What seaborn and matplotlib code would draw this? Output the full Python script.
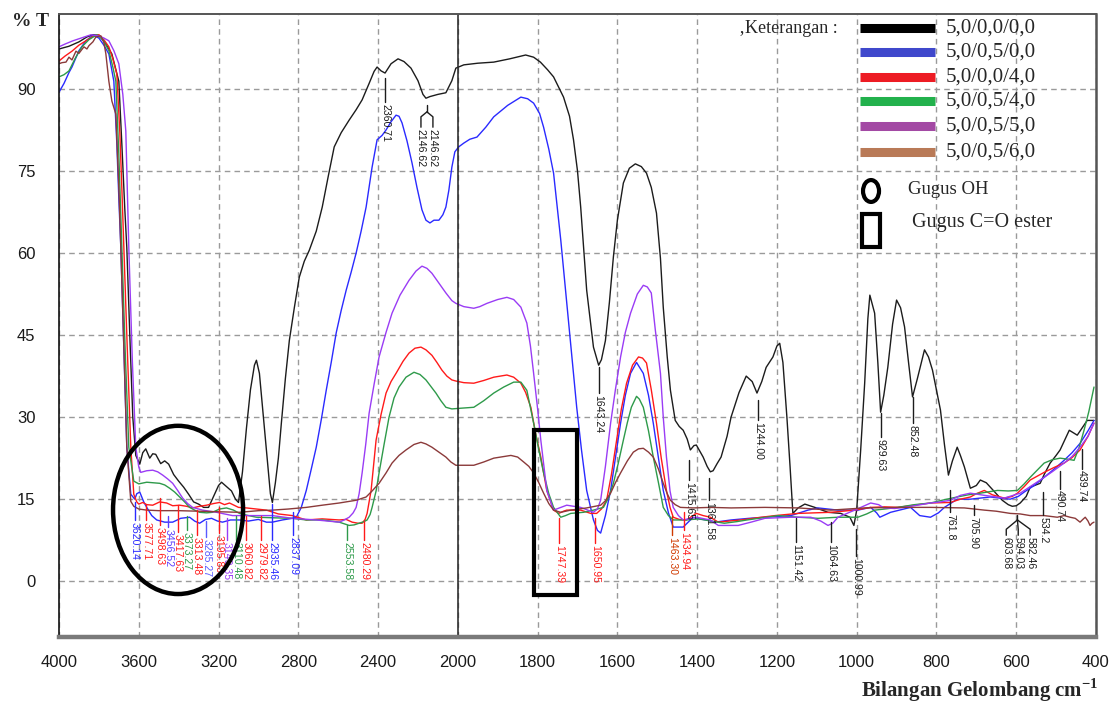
import numpy as np
import matplotlib
matplotlib.use("Agg")
import matplotlib.pyplot as plt
from matplotlib.patches import Ellipse, Rectangle
from matplotlib.lines import Line2D
import seaborn as sns

# ---------------- data (wavenumber cm-1, %T) ----------------
black_pts = [(4000, 97.3), (3950, 97.8), (3900, 98.6), (3860, 99.5), (3830, 99.9), (3800, 99.8), (3770, 98.5),
             (3735, 96.4), (3700, 91.4), (3685, 80), (3670, 68), (3660, 61), (3645, 45), (3630, 30), (3615, 23),
             (3595, 21.4), (3580, 23.5), (3565, 24.2), (3545, 22.5), (3530, 23.3), (3515, 23.2), (3490, 21.5),
             (3470, 22), (3450, 21.4), (3425, 19.5), (3400, 18.3), (3375, 17.2), (3350, 15.9), (3325, 14.5),
             (3300, 14.1), (3275, 13.5), (3250, 13.5), (3225, 15.5), (3200, 17.5), (3185, 18.1), (3160, 17.3),
             (3135, 16.5), (3115, 15), (3100, 14.4), (3080, 20), (3060, 28), (3040, 35), (3020, 39.5),
             (3010, 40.4), (2995, 38), (2975, 30), (2955, 22), (2940, 16), (2930, 14.4), (2915, 18), (2900, 22.5),
             (2885, 28.9), (2865, 37), (2845, 44), (2820, 50), (2795, 55.6), (2770, 58.5), (2745, 60.5),
             (2710, 64), (2680, 68.4), (2650, 74), (2620, 79.4), (2585, 82), (2545, 84.3), (2510, 86.2),
             (2480, 88), (2445, 91), (2420, 93.2), (2405, 94), (2385, 93.3), (2365, 92.9), (2335, 94.6),
             (2300, 95.5), (2270, 95), (2235, 93.8), (2200, 91.5), (2175, 89), (2160, 88.3), (2140, 88.6),
             (2100, 89), (2060, 89.3), (2030, 91.5), (2010, 93.8), (1985, 94.4), (1950, 94.7), (1910, 94.9),
             (1870, 95.5), (1830, 96.2), (1810, 95.8), (1793, 94.9), (1775, 93.5), (1760, 92.2), (1735, 88.5),
             (1720, 85), (1710, 80.7), (1700, 75), (1692, 68.4), (1677, 53.2), (1660, 42.8), (1647, 39.5),
             (1640, 40.5), (1630, 44), (1620, 51), (1610, 59.3), (1600, 66), (1585, 72.8), (1570, 75.5),
             (1555, 76.3), (1540, 75.8), (1527, 74.6), (1515, 72), (1502, 67.3), (1492, 59), (1485, 50.1),
             (1475, 41), (1467, 34.9), (1455, 29.4), (1445, 28.3), (1435, 27.6), (1425, 26), (1417, 24),
             (1408, 24.8), (1402, 24.9), (1395, 24), (1385, 22.7), (1375, 21), (1367, 20), (1360, 20.2),
             (1350, 21.5), (1340, 22.7), (1325, 26.5), (1315, 30), (1295, 34.5), (1277, 37.5), (1262, 36.5),
             (1250, 34.4), (1238, 36.5), (1227, 39.1), (1210, 41), (1200, 43), (1193, 43.5), (1185, 40),
             (1175, 30), (1167, 20.9), (1160, 12.4), (1147, 13.4), (1130, 14.1), (1105, 13.5), (1072, 12.6),
             (1040, 12.4), (1017, 11.7), (1007, 10.2), (1000, 13), (990, 24), (980, 36.2), (972, 48),
             (967, 52.3), (955, 49), (947, 40), (940, 30.9), (932, 34), (922, 39.1), (910, 47), (900, 51.4),
             (890, 50), (880, 46.5), (870, 40), (860, 33.7), (848, 37), (830, 42.3), (820, 41), (810, 38.6),
             (790, 31.3), (780, 25), (770, 19.4), (760, 22), (748, 24.5), (740, 23), (730, 20.9), (715, 17),
             (700, 17.5), (690, 18.5), (675, 18), (665, 17.2), (650, 16), (635, 14.8), (620, 14), (610, 13.7),
             (600, 13.8), (590, 14.3), (575, 15.5), (565, 17.2), (540, 17.9), (530, 19.5), (515, 21.6),
             (500, 23), (490, 24), (467, 27.6), (447, 26.7), (435, 28), (422, 29.4), (405, 29.4)]

blue_pts = [(4000, 89.4), (3975, 91), (3950, 93), (3935, 94), (3900, 97), (3865, 98.8), (3830, 99.8),
            (3800, 99.3), (3775, 98), (3750, 96.4), (3725, 91.4), (3710, 80), (3700, 70), (3690, 61),
            (3675, 43), (3660, 24.5), (3640, 15.9), (3620, 15), (3610, 16), (3595, 16.3), (3575, 14.5),
            (3560, 13.5), (3535, 12), (3510, 11.2), (3470, 10.8), (3430, 10.8), (3390, 11.5), (3345, 11.7),
            (3320, 11), (3295, 10.6), (3265, 11.3), (3235, 11.5), (3205, 11), (3180, 10.8), (3140, 11.2),
            (3095, 11.2), (3050, 11), (3000, 11.3), (2960, 10.8), (2930, 10.8), (2880, 11.2), (2830, 11.5),
            (2810, 11.7), (2785, 13.5), (2760, 16.6), (2735, 20.5), (2710, 24.5), (2685, 29.5), (2660, 34.9),
            (2635, 40), (2610, 45.4), (2585, 49.5), (2560, 53.2), (2535, 56.5), (2510, 60), (2485, 64),
            (2460, 68.4), (2430, 75.7), (2405, 80.7), (2380, 81.5), (2360, 82.5), (2335, 84), (2310, 85.2),
            (2295, 85), (2280, 83.8), (2255, 80.5), (2230, 76.5), (2205, 72), (2180, 67.9), (2160, 66),
            (2140, 65.5), (2120, 66), (2095, 66), (2075, 67), (2060, 68.4), (2045, 71.5), (2030, 75.7),
            (2015, 78.5), (1998, 79.4), (1985, 80.1), (1970, 80.8), (1952, 81.2), (1930, 83), (1910, 84.9),
            (1875, 87), (1842, 88.5), (1825, 88.2), (1810, 87.4), (1795, 85.5), (1785, 83), (1772, 79),
            (1760, 74.6), (1742, 62.4), (1722, 47.2), (1702, 31.8), (1690, 24), (1677, 16.6), (1660, 11.2),
            (1650, 9.3), (1642, 8.8), (1630, 12), (1617, 16.6), (1605, 22.5), (1592, 28.9), (1580, 34),
            (1567, 38), (1552, 40), (1535, 38), (1522, 34), (1510, 28.9), (1497, 22.5), (1485, 16.6),
            (1472, 12.5), (1460, 9.9), (1435, 9.9), (1410, 11.7), (1395, 11.4), (1377, 11.2), (1355, 10.8),
            (1315, 11.2), (1270, 11.5), (1230, 11.7), (1165, 12), (1122, 13), (1097, 13.4), (1047, 13),
            (997, 13), (965, 13.5), (950, 12.5), (942, 11.7), (915, 12.6), (865, 13.5), (842, 12), (815, 11.7),
            (795, 12.5), (780, 13.5), (748, 15), (715, 15), (665, 15.4), (615, 15), (595, 15.5), (580, 16.3),
            (555, 17.5), (530, 19), (505, 20.5), (480, 22.1), (460, 23.5), (440, 25.2), (420, 27.5), (405, 29.4)]

red_pts = [(4000, 95.1), (3970, 96), (3935, 96.9), (3900, 98), (3865, 98.8), (3830, 99.6), (3800, 99.9),
           (3775, 99), (3750, 97.7), (3730, 95.5), (3710, 92.7), (3695, 82), (3685, 72), (3675, 61), (3660, 45),
           (3640, 24.5), (3625, 15.9), (3610, 14.5), (3600, 14.1), (3580, 14.4), (3560, 14), (3530, 13.9),
           (3495, 14.5), (3460, 14.3), (3430, 13.8), (3395, 13.9), (3360, 13.7), (3330, 13.4), (3295, 13.7),
           (3260, 13.9), (3225, 14.2), (3195, 14.4), (3170, 14), (3145, 14.3), (3100, 13.5), (3060, 13.4),
           (3010, 13.2), (2960, 13), (2900, 12.3), (2830, 12), (2760, 11.2), (2680, 11.4), (2595, 11.2),
           (2560, 11.3), (2530, 10.8), (2500, 10.6), (2480, 10.6), (2465, 11.3), (2455, 12.4), (2435, 16.6),
           (2420, 22), (2410, 25.8), (2385, 30.5), (2360, 34.4), (2335, 36.5), (2310, 38), (2275, 40.2),
           (2245, 41.7), (2215, 42.6), (2185, 42.8), (2160, 42.3), (2130, 41.3), (2105, 40), (2080, 38.6),
           (2055, 37.5), (2030, 36.8), (2010, 36.6), (1985, 36.3), (1960, 36.2), (1935, 36.7), (1910, 37.3),
           (1877, 37.7), (1860, 37.3), (1842, 36.2), (1830, 34.5), (1817, 31.8), (1805, 27), (1792, 22.7),
           (1777, 16.6), (1760, 13), (1747, 12.4), (1735, 12.8), (1727, 13), (1692, 13), (1667, 12.4),
           (1652, 12.4), (1640, 13.2), (1627, 14.8), (1615, 19.5), (1602, 25.8), (1590, 31.5), (1577, 36.2),
           (1562, 39.5), (1547, 41), (1537, 40.8), (1527, 39.9), (1515, 35), (1502, 28.9), (1490, 22.5),
           (1477, 16.6), (1468, 13.5), (1460, 11.7), (1445, 11.3), (1427, 11.2), (1402, 12.4), (1385, 12),
           (1367, 11.7), (1347, 10.8), (1320, 11), (1290, 11.2), (1250, 11.6), (1205, 12), (1147, 12.4),
           (1105, 12.5), (1065, 12.6), (1005, 13), (965, 13.5), (930, 13.6), (897, 13.5), (855, 13.9),
           (815, 14.3), (765, 14.4), (740, 15), (715, 15.4), (700, 16), (680, 16.6), (660, 15.8), (630, 15.2),
           (610, 15.5), (597, 16.1), (580, 17.3), (565, 18.5), (530, 19.9), (505, 20.8), (480, 21.6),
           (460, 22.6), (440, 24), (420, 26.5), (405, 28.9)]

green_pts = [(4000, 92.2), (3975, 92.6), (3950, 93.3), (3920, 95.5), (3885, 97.7), (3850, 99), (3810, 99.9),
             (3780, 99), (3750, 97), (3730, 94), (3715, 91.4), (3700, 78), (3685, 61), (3668, 42), (3650, 24.5),
             (3625, 18.3), (3600, 17.8), (3560, 18.1), (3530, 18), (3495, 17.9), (3470, 17.6), (3445, 17),
             (3420, 16.3), (3395, 15.4), (3370, 14.5), (3345, 13.5), (3320, 13), (3295, 12.6), (3260, 12.5),
             (3230, 12.6), (3195, 13.2), (3160, 13.4), (3125, 13), (3095, 12.4), (3050, 12), (3010, 11.7),
             (2930, 11.6), (2830, 11.5), (2760, 11.2), (2680, 11.2), (2595, 10.8), (2570, 10.5), (2545, 10.2),
             (2520, 10.3), (2495, 10.6), (2470, 10.9), (2455, 11.2), (2440, 12.2), (2430, 13.5), (2410, 16.5),
             (2395, 19.8), (2370, 25), (2345, 30), (2320, 33.5), (2295, 35.5), (2260, 37.3), (2220, 38.2),
             (2190, 37.8), (2160, 36.8), (2135, 35.6), (2110, 34.4), (2085, 33), (2060, 31.8), (2030, 31.5),
             (1998, 31.6), (1960, 31.8), (1935, 33), (1910, 34.4), (1885, 35.5), (1860, 36.4), (1842, 36.4),
             (1827, 34.9), (1810, 28.9), (1797, 24), (1785, 19.8), (1772, 16), (1760, 13.5), (1742, 11.7),
             (1730, 12), (1717, 12.4), (1685, 12.6), (1660, 13), (1635, 13.5), (1622, 15.3), (1610, 17.9),
             (1598, 21.5), (1585, 25.8), (1575, 29), (1565, 31.8), (1552, 33.8), (1545, 33.3), (1535, 31.8),
             (1522, 27.5), (1510, 22.7), (1497, 18), (1485, 13.5), (1472, 12), (1460, 11.2), (1427, 11.2),
             (1397, 11.4), (1365, 11), (1332, 10.6), (1300, 10.9), (1275, 11.2), (1235, 11.6), (1197, 12),
             (1147, 11.7), (1097, 11.5), (1047, 11.7), (997, 11.7), (975, 12.3), (955, 13), (930, 13.2),
             (897, 13.5), (855, 14), (815, 14.3), (780, 14.9), (748, 15.4), (720, 15.8), (690, 16.1),
             (647, 16.6), (620, 16.5), (597, 16.6), (580, 17.8), (565, 19), (545, 20.5), (530, 21.6),
             (510, 22.2), (490, 22.5), (470, 22.3), (455, 22.1), (442, 24.5), (430, 27.6), (418, 31), (405, 35.5)]

purple_pts = [(4000, 97.7), (3970, 98.2), (3930, 98.8), (3880, 99.4), (3840, 99.9), (3800, 99.7), (3775, 99.3),
              (3750, 98.8), (3725, 97), (3700, 94.6), (3680, 89), (3665, 82.3), (3650, 61), (3632, 40),
              (3615, 24.5), (3600, 20.9), (3590, 19.9), (3560, 20.2), (3530, 20.3), (3505, 20), (3480, 19.4),
              (3455, 18.7), (3430, 17.9), (3405, 16.6), (3380, 15.2), (3355, 14.2), (3330, 13.5), (3280, 13),
              (3245, 12.8), (3210, 12.6), (3170, 12.3), (3130, 12), (3045, 12), (2930, 12), (2830, 11.5),
              (2710, 11.2), (2595, 10.8), (2570, 11.2), (2545, 11.7), (2525, 12.5), (2510, 13.5), (2495, 16),
              (2480, 19.8), (2462, 25), (2445, 30.7), (2420, 36), (2395, 41), (2360, 45.5), (2330, 49),
              (2290, 52.3), (2245, 55), (2210, 56.7), (2180, 57.6), (2155, 57.2), (2130, 56.3), (2095, 54.5),
              (2060, 52.7), (2030, 51.3), (2010, 50.8), (1985, 50.2), (1960, 49.9), (1945, 50.2), (1927, 50.8),
              (1900, 51.5), (1877, 51.9), (1860, 51.5), (1842, 50.1), (1827, 47.2), (1818, 43), (1810, 38),
              (1800, 31.5), (1792, 25.8), (1777, 16.6), (1760, 13), (1742, 13.5), (1727, 13.9), (1692, 13.5),
              (1660, 12.6), (1650, 13.2), (1642, 14.8), (1630, 21), (1617, 28.9), (1605, 35), (1592, 41),
              (1580, 45.5), (1567, 49), (1550, 52.5), (1535, 54.1), (1525, 53.8), (1515, 52.7), (1505, 46),
              (1492, 38), (1485, 30), (1477, 22.7), (1468, 16.5), (1460, 13.5), (1447, 12), (1435, 11.2),
              (1402, 11.7), (1367, 11.2), (1347, 10.2), (1297, 10.2), (1265, 10.8), (1230, 11.5), (1165, 11.7),
              (1115, 11.7), (1090, 11), (1072, 10.2), (1060, 10.6), (1047, 11.7), (1005, 13), (965, 14.3),
              (945, 14), (932, 13.4), (905, 13.3), (880, 13.5), (815, 14.3), (790, 14.5), (765, 14.8),
              (740, 15.7), (715, 16.1), (680, 15.7), (650, 15.4), (630, 15.2), (590, 16.1), (565, 17.3),
              (540, 18.5), (510, 20), (480, 21.6), (460, 22.8), (440, 24.5), (420, 26.5), (405, 28.9)]

brown_pts = [(4000, 94.6), (3985, 94.8), (3965, 94.9), (3950, 95.8), (3935, 95.3), (3915, 96.9), (3900, 96.5),
             (3875, 97.7), (3860, 97.3), (3850, 97.9), (3830, 98.6), (3815, 99.5), (3790, 99.7), (3775, 98.5),
             (3765, 96.4), (3750, 91.4), (3735, 87.8), (3715, 85.4), (3700, 72), (3690, 61), (3675, 43),
             (3660, 24.5), (3640, 14.6), (3625, 13.7), (3600, 13.2), (3560, 13), (3500, 12.9), (3400, 12.9),
             (3300, 12.8), (3200, 12.7), (3095, 12.6), (3000, 12.9), (2930, 13), (2850, 13.2), (2760, 13.5),
             (2680, 13.9), (2595, 14.3), (2510, 14.8), (2460, 15.4), (2430, 16.5), (2395, 17.9), (2360, 19.8),
             (2330, 21.6), (2295, 23), (2260, 24), (2220, 25), (2185, 25.4), (2160, 25.1), (2130, 24.5),
             (2095, 23.6), (2060, 22.7), (2035, 21.8), (2010, 21.2), (1960, 21.2), (1935, 21.8), (1910, 22.5),
             (1867, 23), (1850, 22.7), (1835, 21.8), (1822, 21), (1810, 19.8), (1797, 18), (1785, 16.1),
             (1772, 14.2), (1760, 13), (1742, 12.6), (1717, 13), (1677, 13.4), (1642, 13.9), (1630, 14.7),
             (1617, 16.1), (1605, 18), (1592, 19.8), (1575, 22), (1560, 23.6), (1547, 24.2), (1535, 24.3),
             (1522, 23.6), (1510, 22.7), (1497, 20.5), (1485, 17.9), (1475, 16), (1467, 14.8), (1455, 14),
             (1442, 13.5), (1410, 13.4), (1367, 13.5), (1315, 13.4), (1230, 13.5), (1147, 13.4), (1065, 13),
             (980, 13.4), (897, 13.5), (815, 13.5), (730, 13.4), (680, 13), (650, 12.8), (615, 12.4),
             (590, 12.3), (565, 12), (530, 12), (497, 11.7), (480, 12), (465, 11.7), (452, 11.5), (440, 10.8),
             (433, 11.3), (427, 11.7), (420, 11), (415, 10.2), (410, 10.6), (405, 10.8)]

series_labels = ["5,0/0,0/0,0", "5,0/0,5/0,0", "5,0/0,0/4,0", "5,0/0,5/4,0", "5,0/0,5/5,0", "5,0/0,5/6,0"]
series_data = [black_pts, blue_pts, red_pts, green_pts, purple_pts, brown_pts]
line_colors = ["#1c1c1c", "#2a2aff", "#ff1a1a", "#2e9a4a", "#9a3cf5", "#8b3a3a"]
swatch_colors = ["#000000", "#3f48cc", "#ed1c24", "#22b14c", "#a349a4", "#b97a57"]

x_major = [4000, 3600, 3200, 2800, 2400, 2000, 1800, 1600, 1400, 1200, 1000, 800, 600, 400]
y_major = [0, 15, 30, 45, 60, 75, 90]

# peak annotations: (label, wavenumber, line top %T, text top %T, colour)
peak_labels = [
    ("2360.71", 2365, 92.0, 87.6, "#1c1c1c"), ("1643.24", 1647, 39.1, 34.4, "#1c1c1c"),
    ("1415.65", 1420, 22.1, 18.5, "#1c1c1c"), ("1361.58", 1370, 18.8, 14.8, "#1c1c1c"),
    ("1244.00", 1247, 33.1, 29.4, "#1c1c1c"), ("929.63", 940, 30.7, 26.3, "#1c1c1c"),
    ("852.48", 860, 33.7, 28.9, "#1c1c1c"), ("1151.42", 1152, 11.5, 7.1, "#1c1c1c"),
    ("1064.63", 1065, 10.8, 7.1, "#1c1c1c"), ("1000.99", 1002, 9.5, 4.6, "#1c1c1c"),
    ("761.8", 765, 16.6, 12.6, "#1c1c1c"), ("705.90", 707, 14.0, 12.1, "#1c1c1c"),
    ("534.2", 532, 16.4, 12.1, "#1c1c1c"), ("490.74", 490, 20.2, 16.9, "#1c1c1c"),
    ("439.74", 435, 24.2, 20.6, "#1c1c1c"),
    ("3620.14", 3620, 14.5, 11.2, "#2a2aff"), ("3577.71", 3562, 14.0, 11.2, "#ff1a1a"),
    ("3498.63", 3495, 15.2, 10.2, "#ff1a1a"), ("3456.52", 3452, 12.0, 9.9, "#5a3cff"),
    ("3417.63", 3404, 13.9, 9.0, "#ff1a1a"), ("3373.27", 3358, 12.0, 9.3, "#2e9a4a"),
    ("3313.48", 3310, 13.0, 8.4, "#ff1a1a"), ("3285.27", 3262, 11.0, 8.0, "#5a5aff"),
    ("3195.83", 3200, 13.5, 8.8, "#ff1a1a"), ("3149.35", 3160, 11.5, 7.5, "#9a3cf5"),
    ("3110.48", 3110, 12.0, 7.5, "#2e9a4a"), ("3060.82", 3060, 12.0, 7.5, "#ff1a1a"),
    ("2979.82", 2985, 12.0, 7.5, "#ff1a1a"), ("2935.46", 2930, 14.2, 7.5, "#2a2aff"),
    ("2837.09", 2825, 12.6, 8.4, "#2a2aff"), ("2553.58", 2555, 10.2, 7.5, "#2e9a4a"),
    ("2480.29", 2470, 11.0, 7.5, "#ff1a1a"),
    ("1747.39", 1747, 11.5, 7.0, "#ff1a1a"), ("1650.95", 1655, 11.5, 7.0, "#ff1a1a"),
    ("1463.30", 1463, 12.0, 8.4, "#d03a00"), ("1434.94", 1433, 12.6, 9.3, "#ff1a1a"),
]
# forked labels: (labels, stem wn, stem top, stem bottom, branch wns, branch knee %T, branch bottom %T)
fork_labels = [
    (["2146.62", "2146.62"], 2155, 87.1, 85.8, [2185, 2125], 84.9, 83.0),
    (["603.68", "594.03", "582.46"], 597, 12.1, 11.2, [625, 595, 565], 9.5, 8.4),
]

# ---------------- figure ----------------
sns.set_style("white")
plt.rcParams["font.family"] = ["Liberation Sans", "DejaVu Sans"]
plt.rcParams["mathtext.fontset"] = "custom"
plt.rcParams["mathtext.rm"] = "Liberation Serif"
plt.rcParams["mathtext.bf"] = "Liberation Serif:bold"

fig = plt.figure(figsize=(11.12, 7.06), dpi=100)
ax = fig.add_axes([0.05306, 0.0977, 0.93255, 0.8825])

for pts, col in zip(series_data, line_colors):
    wn = [p[0] for p in pts]
    tt = [p[1] for p in pts]
    sns.lineplot(x=wn, y=tt, color=col, lw=1.0, ax=ax, estimator=None, sort=False, legend=False)


def fwd(w):
    w = np.asarray(w, dtype=float)
    return np.where(w >= 2000, 2000 + (w - 2000) / 2.0, w)


def inv(t):
    t = np.asarray(t, dtype=float)
    return np.where(t >= 2000, 2000 + (t - 2000) * 2.0, t)


ax.set_xscale("function", functions=(fwd, inv))
ax.set_xlim(4000, 400)
ax.set_ylim(-10.2, 103.7)

x_minor = list(range(4000, 2000, -80)) + list(range(2000, 399, -40))
ax.set_xticks(x_major, [str(v) for v in x_major])
ax.set_xticks(x_minor, minor=True)
ax.set_yticks(y_major, [str(v) for v in y_major])
ax.set_yticks(list(range(-9, 103, 3)), minor=True)

tick_font = ["Liberation Sans Narrow", "Liberation Sans"]
for lab in ax.get_xticklabels() + ax.get_yticklabels():
    lab.set_fontfamily(tick_font)
    lab.set_fontsize(12)
    lab.set_color("#1a1a1a")
ax.tick_params(axis="x", which="major", direction="out", length=9, width=1.1, color="#222", pad=4)
ax.tick_params(axis="x", which="minor", direction="out", length=7, width=1.1, color="#222")
ax.tick_params(axis="y", which="major", direction="out", length=14, width=1.1, color="#222", pad=3)
ax.tick_params(axis="y", which="minor", direction="out", length=8, width=1.1, color="#222")

ax.grid(True, which="major", ls=(0, (4, 3)), color="#9a9a9a", lw=1.0)
ax.axvline(2000, color="#222222", lw=1.1)
ax.set_xlabel("")
ax.set_ylabel("")

ax.spines["left"].set_color("#111")
ax.spines["left"].set_linewidth(1.2)
ax.spines["bottom"].set_color("#7a7a7a")
ax.spines["bottom"].set_linewidth(3.2)
ax.spines["top"].set_color("#555")
ax.spines["top"].set_linewidth(1.4)
ax.spines["right"].set_color("#555")
ax.spines["right"].set_linewidth(1.8)

# peak annotations
ann_font = ["Liberation Sans Narrow", "Liberation Sans"]
for lab, wn, ytop, ytext, col in peak_labels:
    ax.plot([wn, wn], [ytop, ytext], color=col, lw=1.0)
    ax.text(wn, ytext - 0.3, lab, rotation=-90, ha="center", va="top", fontsize=7.6,
            color=col, family=ann_font)
for labs, stem, st_top, st_bot, branches, br_mid, br_bot in fork_labels:
    ax.plot([stem, stem], [st_top, st_bot], color="#1c1c1c", lw=1.0)
    for lab, bw in zip(labs, branches):
        ax.plot([stem, bw, bw], [st_bot, br_mid, br_bot], color="#1c1c1c", lw=1.0)
        ax.text(bw, br_bot - 0.3, lab, rotation=-90, ha="center", va="top", fontsize=7.6,
                color="#1c1c1c", family=ann_font)

# group markers (ellipse = OH, rectangle = C=O ester)
ax.add_patch(Ellipse((0.1148, 0.204), 0.1254, 0.27, transform=ax.transAxes, fill=False,
                     lw=3.2, ec="black", zorder=5))
ax.add_patch(Rectangle((0.458, 0.0674), 0.0415, 0.265, transform=ax.transAxes, fill=False,
                       lw=3.0, ec="black", zorder=5))

# legend (manual)
serif = ["Liberation Serif", "DejaVu Serif"]
fig.text(0.6646, 0.960, "\u201aKeterangan :", fontsize=13, family=serif, va="center", ha="left")
row_y = [28, 52, 77, 101, 126, 152]
for py, lab, col in zip(row_y, series_labels, swatch_colors):
    yf = 1 - py / 706
    fig.add_artist(Line2D([0.7734, 0.8408], [yf, yf], transform=fig.transFigure, color=col, lw=6.5,
                          solid_capstyle="butt"))
    fig.text(0.8507, yf, lab, fontsize=15, family=serif, va="center", ha="left")
fig.add_artist(Ellipse((0.7833, 1 - 191 / 706), 0.0144, 0.031, transform=fig.transFigure, fill=False,
                       lw=3.0, ec="black"))
fig.text(0.8165, 1 - 189 / 706, "Gugus OH", fontsize=13.5, family=serif, va="center", ha="left")
fig.add_artist(Rectangle((0.7752, 1 - 247 / 706), 0.0162, 0.0467, transform=fig.transFigure, fill=False,
                         lw=3.0, ec="black"))
fig.text(0.820, 1 - 222 / 706, "Gugus C=O ester", fontsize=14.5, family=serif, va="center", ha="left")

# axis titles
fig.text(0.0108, 0.969, "% T", fontsize=14, fontweight="bold", family=serif, va="center", ha="left")
fig.text(0.988, 0.0227, r"Bilangan Gelombang cm$^{\mathbf{-1}}$", fontsize=15, fontweight="bold",
         family=serif, va="center", ha="right")

fig.savefig("out.png", dpi=100)
